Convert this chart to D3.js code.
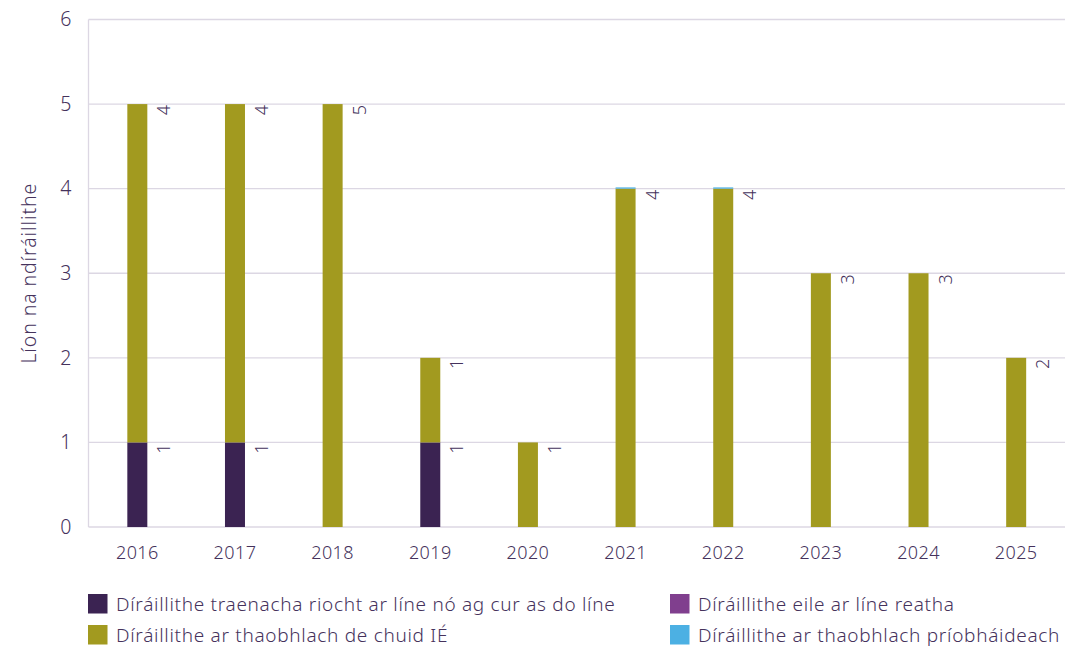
<!DOCTYPE html>
<html>
<head>
<meta charset="utf-8">
<script src="https://cdn.jsdelivr.net/npm/d3@7"></script>
<style>
  body { margin: 0; background: #fff; }
  svg text { font-family: "Noto Sans", sans-serif; font-weight: 300; fill: #45325c; }
</style>
</head>
<body>
<svg id="chart" width="1075" height="648"></svg>
<script>
// data
const years = ["2016", "2017", "2018", "2019", "2020", "2021", "2022", "2023", "2024", "2025"];
const trainDerail = [1, 1, 0, 1, 0, 0, 0, 0, 0, 0];
const otherRunning = [0, 0, 0, 0, 0, 0, 0, 0, 0, 0];
const ieSiding = [4, 4, 5, 1, 1, 4, 4, 3, 3, 2];
const privateSiding = [0, 0, 0, 0, 0, 0.015, 0.015, 0, 0, 0];
const yTicks = [0, 1, 2, 3, 4, 5, 6];

const series = [
    {key: "train", name: "Díráillithe traenacha riocht ar líne nó ag cur as do líne", color: "#3b2352", values: trainDerail},
    {key: "other", name: "Díráillithe eile ar líne reatha", color: "#803f8e", values: otherRunning},
    {key: "ie", name: "Díráillithe ar thaobhlach de chuid IÉ", color: "#a29a1f", values: ieSiding},
    {key: "priv", name: "Díráillithe ar thaobhlach príobháideach", color: "#4cb0e3", values: privateSiding}
];

const margin = {top: 19.5, right: 10, bottom: 121, left: 88.5};
const width = 1075 - margin.left - margin.right;
const height = 648 - margin.top - margin.bottom;

const svg = d3.select("#chart");
const g = svg.append("g").attr("transform", `translate(${margin.left},${margin.top})`);

const table = years.map((y, i) => {
    const row = {year: y};
    series.forEach(s => row[s.key] = s.values[i]);
    return row;
});
const stacked = d3.stack().keys(series.map(s => s.key))(table);

const xScale = d3.scaleBand().domain(years).range([0, width]);
const yScale = d3.scaleLinear().domain([0, 6]).range([height, 0]);

// grid lines
g.append("g").selectAll("line")
    .data(yTicks)
    .enter().append("line")
    .attr("x1", 0).attr("x2", width)
    .attr("y1", d => yScale(d)).attr("y2", d => yScale(d))
    .attr("stroke", "#dcd7e3").attr("stroke-width", 1.3);
g.append("line")
    .attr("x1", 0).attr("x2", 0)
    .attr("y1", 0).attr("y2", height)
    .attr("stroke", "#dcd7e3").attr("stroke-width", 1.3);

// y axis
const yAxis = d3.axisLeft(yScale).tickValues(yTicks).tickFormat(d3.format("d")).tickSize(0).tickPadding(17);
g.append("g").call(yAxis)
    .call(a => a.select(".domain").remove())
    .selectAll("text").style("font-size", "19.5px").attr("fill", null);

// x axis
const xAxis = d3.axisBottom(xScale).tickSize(0).tickPadding(19);
g.append("g").attr("transform", `translate(0,${height})`).call(xAxis)
    .call(a => a.select(".domain").remove())
    .selectAll("text").style("font-size", "18px").style("letter-spacing", "0.4px").attr("fill", null);

// y title
svg.append("text")
    .attr("transform", `translate(36,${margin.top + yScale(3)}) rotate(-90)`)
    .attr("text-anchor", "middle")
    .style("font-size", "19.5px")
    .style("letter-spacing", "0.9px")
    .text("Líon na ndíráillithe");

// bars
const barW = 20;
const layers = g.append("g").selectAll("g")
    .data(stacked)
    .enter().append("g")
    .attr("fill", (d, i) => series[i].color);
layers.selectAll("rect")
    .data(d => d)
    .enter().append("rect")
    .attr("x", d => xScale(d.data.year) + xScale.bandwidth() / 2 - barW / 2)
    .attr("y", d => yScale(d[1]))
    .attr("width", barW)
    .attr("height", d => yScale(d[0]) - yScale(d[1]));

// value labels (rotated)
layers.selectAll("text")
    .data(d => d.filter(p => p[1] - p[0] >= 0.5))
    .enter().append("text")
    .attr("transform", d => `translate(${xScale(d.data.year) + xScale.bandwidth() / 2 + barW / 2 + 23},${yScale(d[1]) + 1}) rotate(-90)`)
    .attr("text-anchor", "end")
    .style("fill", "#45325c")
    .style("font-size", "18px")
    .text(d => d[1] - d[0]);

// legend
const legPos = [[88, 594], [670, 594], [88, 625], [670, 625]];
const legend = svg.append("g").selectAll("g")
    .data(series)
    .enter().append("g")
    .attr("transform", (d, i) => `translate(${legPos[i][0]},${legPos[i][1]})`);
legend.append("rect")
    .attr("width", 19.5).attr("height", 19.5)
    .attr("fill", d => d.color);
legend.append("text")
    .attr("x", 28).attr("y", 17)
    .style("font-size", "19px")
    .style("letter-spacing", "0.7px")
    .text(d => d.name);
</script>
</body>
</html>
